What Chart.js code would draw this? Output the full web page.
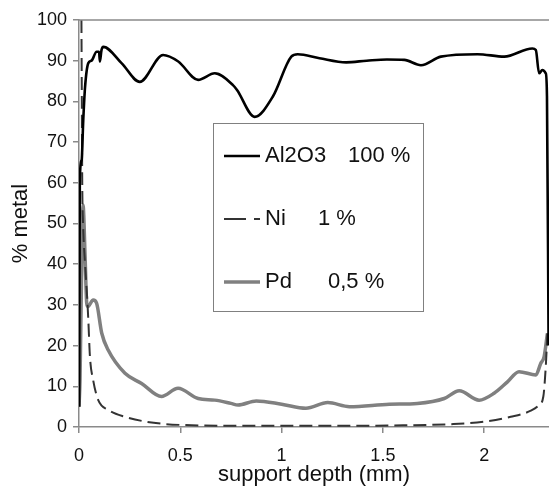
<!DOCTYPE html>
<html>
<head>
<meta charset="utf-8">
<script src="https://cdn.jsdelivr.net/npm/chart.js@4/dist/chart.umd.min.js"></script>
<style>
  html, body { margin: 0; padding: 0; background: #fff; }
  canvas { display: block; }
</style>
</head>
<body>
<canvas id="chart" width="549" height="488"></canvas>
<script>
// series: support depth (mm) vs % metal
var seriesNames = ['Al2O3', 'Ni', 'Pd'];
var seriesLoads = ['100 %', '1 %', '0,5 %'];

var al2o3Depth = [0.001, 0.004, 0.013, 0.021, 0.03, 0.046, 0.062, 0.087, 0.099, 0.103, 0.111, 0.12, 0.21, 0.30, 0.415, 0.49, 0.588, 0.67, 0.76, 0.78, 0.867, 0.957, 1.048, 1.08, 1.187, 1.319, 1.42, 1.52, 1.606, 1.688, 1.786, 1.967, 2.099, 2.238, 2.255, 2.271, 2.287, 2.304, 2.31, 2.318];
var al2o3Values = [5, 61, 65.6, 75.4, 83.6, 89.4, 90.0, 92.2, 92.2, 89.8, 92.6, 93.4, 89.4, 84.8, 91.4, 89.8, 85.3, 86.9, 84.0, 82.8, 76.2, 81.2, 91.0, 91.6, 90.6, 89.6, 90.0, 90.3, 90.2, 88.9, 91.0, 91.6, 91.0, 93.0, 92.6, 86.9, 87.7, 86.9, 81.2, 20];

var niDepth = [0.012, 0.014, 0.016, 0.02, 0.03, 0.04, 0.046, 0.054, 0.07, 0.095, 0.144, 0.227, 0.358, 0.506, 0.8, 1.2, 1.6, 1.836, 2.0, 2.131, 2.23, 2.271, 2.292, 2.304, 2.312];
var niValues = [100, 80, 60, 50, 40, 32, 26.3, 17.3, 11.5, 6.6, 4.2, 2.5, 1.1, 0.5, 0.3, 0.3, 0.4, 0.7, 1.3, 2.5, 4.0, 5.4, 7.5, 14.8, 23];

var pdDepth = [0, 0.005, 0.012, 0.02, 0.03, 0.038, 0.044, 0.07, 0.087, 0.112, 0.144, 0.227, 0.309, 0.407, 0.489, 0.588, 0.67, 0.75, 0.785, 0.875, 1.0, 1.12, 1.228, 1.335, 1.532, 1.67, 1.803, 1.877, 1.975, 2.049, 2.115, 2.172, 2.255, 2.279, 2.296, 2.312];
var pdValues = [5, 11.5, 35, 54.5, 42, 30.4, 29.6, 31.2, 30.4, 23.1, 18.9, 13.2, 10.7, 7.5, 9.5, 7.0, 6.6, 5.8, 5.4, 6.4, 5.6, 4.6, 6.0, 5.0, 5.6, 5.8, 7.0, 8.9, 6.6, 8.3, 11.1, 13.6, 12.8, 15.6, 17.3, 23];

var xTicks = [0, 0.5, 1, 1.5, 2];

function toPoints(xs, ys) {
    return xs.map(function(x, i) { return { x: x, y: ys[i] }; });
}

var FONT = "'Liberation Sans', Arial, sans-serif";

// draws the top frame line and the boxed legend inside the plot
var framePlugin = {
    id: 'frame',
    afterDraw: function(chart) {
        var ctx = chart.ctx;
        var a = chart.chartArea;
        ctx.save();
        ctx.strokeStyle = '#8a8a8a';
        ctx.lineWidth = 1.5;
        ctx.beginPath();
        ctx.moveTo(a.left, a.top);
        ctx.lineTo(a.right, a.top);
        ctx.stroke();

        // legend box
        ctx.fillStyle = '#fff';
        ctx.fillRect(213, 123, 210, 188);
        ctx.strokeStyle = '#808080';
        ctx.lineWidth = 1;
        ctx.strokeRect(213.5, 123.5, 210, 188);

        var rows = [156, 219, 282];
        var valueX = [348, 318, 328];
        ctx.font = '22px ' + FONT;
        ctx.textBaseline = 'middle';
        chart.data.datasets.forEach(function(ds, i) {
            ctx.strokeStyle = ds.borderColor;
            ctx.lineWidth = ds.borderWidth;
            ctx.setLineDash(ds.borderDash ? [22, 8] : []);
            ctx.beginPath();
            ctx.moveTo(224, rows[i]);
            ctx.lineTo(260, rows[i]);
            ctx.stroke();
            ctx.setLineDash([]);
            ctx.fillStyle = '#111';
            ctx.fillText(seriesNames[i], 265, rows[i]);
            ctx.fillText(seriesLoads[i], valueX[i], rows[i]);
        });
        ctx.restore();
    }
};

new Chart(document.getElementById('chart'), {
    type: 'line',
    data: {
        datasets: [
            { label: seriesNames[0], data: toPoints(al2o3Depth, al2o3Values), borderColor: '#000', borderWidth: 2.6, pointRadius: 0, cubicInterpolationMode: 'monotone', fill: false },
            { label: seriesNames[1], data: toPoints(niDepth, niValues), borderColor: '#333', borderWidth: 2, borderDash: [13, 6], pointRadius: 0, cubicInterpolationMode: 'monotone', fill: false },
            { label: seriesNames[2], data: toPoints(pdDepth, pdValues), borderColor: '#808080', borderWidth: 3.5, pointRadius: 0, cubicInterpolationMode: 'monotone', fill: false }
        ]
    },
    options: {
        responsive: false,
        animation: false,
        devicePixelRatio: 1,
        layout: { padding: { top: 20, right: 0, left: 0, bottom: 0 } },
        plugins: {
            legend: { display: false },
            tooltip: { enabled: false }
        },
        scales: {
            x: {
                type: 'linear',
                min: 0,
                max: 2.32,
                afterBuildTicks: function(scale) {
                    scale.ticks = xTicks.map(function(v) { return { value: v }; });
                },
                afterFit: function(scale) { scale.height = 61; },
                ticks: {
                    color: '#111', font: { family: FONT, size: 18 }, padding: 12, maxRotation: 0,
                    callback: function(v) { return String(v); }
                },
                grid: { drawOnChartArea: false, tickLength: 6, color: '#8a8a8a', lineWidth: 1.5 },
                border: { color: '#8a8a8a', width: 1.5 },
                title: { display: true, text: 'support depth (mm)', color: '#111', font: { family: FONT, size: 22 }, padding: { top: 0, bottom: 0 } }
            },
            y: {
                min: 0,
                max: 100,
                afterFit: function(scale) { scale.width = 79; },
                ticks: { stepSize: 10, color: '#111', font: { family: FONT, size: 18 }, padding: 6 },
                grid: { drawOnChartArea: false, tickLength: 6, color: '#8a8a8a', lineWidth: 1.5 },
                border: { color: '#8a8a8a', width: 1.5 },
                title: { display: true, text: '% metal', color: '#111', font: { family: FONT, size: 22 }, padding: { top: 8, bottom: 0 } }
            }
        }
    },
    plugins: [framePlugin]
});
</script>
</body>
</html>
